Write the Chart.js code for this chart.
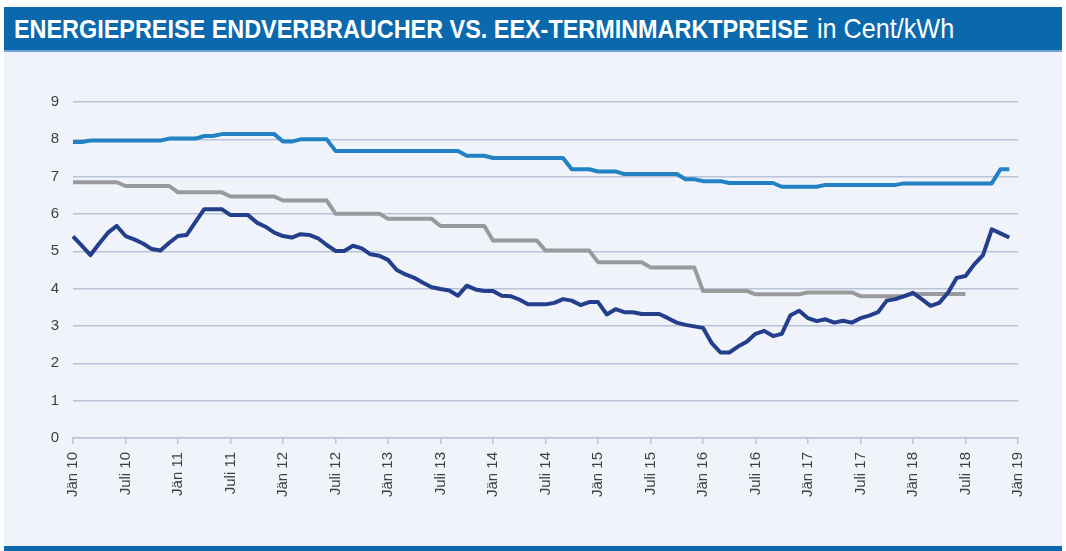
<!DOCTYPE html>
<html lang="de">
<head>
<meta charset="utf-8">
<script src="https://cdn.jsdelivr.net/npm/chart.js@4.4.0/dist/chart.umd.min.js"></script>
<style>
  body { margin: 0; width: 1066px; height: 551px; background: #fff; position: relative; overflow: hidden;
         font-family: "Liberation Sans", Arial, sans-serif; }
  #kopf { position: absolute; left: 4px; top: 7px; width: 1058px; height: 43px; background: #0a69ad;
          color: #fff; line-height: 44px; padding-left: 10px; box-sizing: border-box; white-space: nowrap; overflow: hidden; }
  #kopf span { display: inline-block; transform: scaleX(0.9); transform-origin: left center; }
  #kopf b { font-weight: bold; font-size: 26px; }
  #kopf i { font-style: normal; font-size: 28px; margin-left: 5px; }
  #linie { position: absolute; left: 4px; top: 50px; width: 1058px; height: 2px; background: #6fa6d6; }
  #flaeche { position: absolute; left: 4px; top: 52px; width: 1058px; height: 494px; background: #f0f3f9; }
  #fuss { position: absolute; left: 4px; top: 546px; width: 1058px; height: 5px; background: #0a69ad; }
  #box { position: absolute; left: 0; top: 53px; width: 1066px; height: 492px; }
</style>
</head>
<body>
<div id="kopf"><span><b>ENERGIEPREISE ENDVERBRAUCHER VS. EEX-TERMINMARKTPREISE</b> <i>in Cent/kWh</i></span></div>
<div id="linie"></div>
<div id="flaeche"></div>
<div id="fuss"></div>
<div id="box"><canvas id="chart" width="1066" height="492"></canvas></div>

<script>
// Monatsachse Jän 10 bis Jän 19
const monate = ['Jän', 'Feb', 'März', 'Apr', 'Mai', 'Juni', 'Juli', 'Aug', 'Sep', 'Okt', 'Nov', 'Dez'];
const jahre = ['10', '11', '12', '13', '14', '15', '16', '17', '18'];

// Endverbraucherpreis (hellblau), Cent/kWh, monatlich ab Jän 10
const endverbraucherHoch = [
    7.93, 7.93, 7.97, 7.97, 7.97, 7.97, 7.97, 7.97, 7.97, 7.97, 7.97, 8.02,
    8.02, 8.02, 8.02, 8.09, 8.09, 8.14, 8.14, 8.14, 8.14, 8.14, 8.14, 8.14,
    7.94, 7.94, 8.00, 8.00, 8.00, 8.00, 7.69, 7.69, 7.69, 7.69, 7.69, 7.69,
    7.69, 7.69, 7.69, 7.69, 7.69, 7.69, 7.69, 7.69, 7.69, 7.56, 7.56, 7.56,
    7.50, 7.50, 7.50, 7.50, 7.50, 7.50, 7.50, 7.50, 7.50, 7.20, 7.20, 7.20,
    7.14, 7.14, 7.14, 7.07, 7.07, 7.07, 7.07, 7.07, 7.07, 7.07, 6.93, 6.93,
    6.88, 6.88, 6.88, 6.83, 6.83, 6.83, 6.83, 6.83, 6.83, 6.73, 6.73, 6.73,
    6.73, 6.73, 6.78, 6.78, 6.78, 6.78, 6.78, 6.78, 6.78, 6.78, 6.78, 6.82,
    6.82, 6.82, 6.82, 6.82, 6.82, 6.82, 6.82, 6.82, 6.82, 6.82, 7.20, 7.20
];

// Endverbraucherpreis (grau), halbjährlich angepasst, endet Juli 18
const endverbraucherMittel = [
    6.85, 6.85, 6.85, 6.85, 6.85, 6.85, 6.75, 6.75, 6.75, 6.75, 6.75, 6.75,
    6.58, 6.58, 6.58, 6.58, 6.58, 6.58, 6.47, 6.47, 6.47, 6.47, 6.47, 6.47,
    6.36, 6.36, 6.36, 6.36, 6.36, 6.36, 6.01, 6.01, 6.01, 6.01, 6.01, 6.01,
    5.87, 5.87, 5.87, 5.87, 5.87, 5.87, 5.68, 5.68, 5.68, 5.68, 5.68, 5.68,
    5.29, 5.29, 5.29, 5.29, 5.29, 5.29, 5.02, 5.02, 5.02, 5.02, 5.02, 5.02,
    4.71, 4.71, 4.71, 4.71, 4.71, 4.71, 4.57, 4.57, 4.57, 4.57, 4.57, 4.57,
    3.94, 3.94, 3.94, 3.94, 3.94, 3.94, 3.85, 3.85, 3.85, 3.85, 3.85, 3.85,
    3.90, 3.90, 3.90, 3.90, 3.90, 3.90, 3.80, 3.80, 3.80, 3.80, 3.80, 3.80,
    3.86, 3.86, 3.86, 3.86, 3.86, 3.86, 3.86
];

// EEX-Terminmarktpreis (dunkelblau)
const eexTermin = [
    5.40, 5.15, 4.90, 5.21, 5.50, 5.68, 5.41, 5.32, 5.21, 5.06, 5.02, 5.23,
    5.41, 5.44, 5.79, 6.13, 6.13, 6.13, 5.97, 5.97, 5.97, 5.77, 5.66, 5.50,
    5.41, 5.37, 5.46, 5.44, 5.35, 5.17, 5.01, 5.01, 5.15, 5.08, 4.92, 4.88,
    4.77, 4.50, 4.38, 4.29, 4.16, 4.04, 3.99, 3.95, 3.81, 4.08, 3.98, 3.94,
    3.94, 3.81, 3.80, 3.71, 3.58, 3.58, 3.58, 3.62, 3.72, 3.68, 3.56, 3.64,
    3.64, 3.31, 3.45, 3.37, 3.37, 3.32, 3.32, 3.32, 3.21, 3.09, 3.03, 2.99,
    2.95, 2.54, 2.29, 2.29, 2.45, 2.58, 2.79, 2.87, 2.73, 2.79, 3.29, 3.41,
    3.21, 3.13, 3.18, 3.09, 3.14, 3.09, 3.21, 3.28, 3.37, 3.68, 3.72, 3.80,
    3.89, 3.72, 3.54, 3.62, 3.89, 4.29, 4.34, 4.65, 4.90, 5.59, 5.48, 5.37
];

const labels = [];
for (const j of jahre) {
    for (const m of monate) labels.push(m + ' ' + j);
}
labels.push('Jän 19');

const gridColor = '#b9c3d8';
const textColor = '#404040';

function linie(label, data, color) {
    return {
        label: label,
        data: data,
        borderColor: color,
        borderWidth: 4,
        pointRadius: 0,
        tension: 0,
        fill: false,
        borderJoinStyle: 'round',
        borderCapStyle: 'butt'
    };
}

var ctx = document.getElementById('chart').getContext('2d');
var myChart = new Chart(ctx, {
    type: 'line',
    data: {
        labels: labels,
        datasets: [
            linie('EEX-Terminmarkt', eexTermin, '#233f8c'),
            linie('Endverbraucher grau', endverbraucherMittel, '#999a9c'),
            linie('Endverbraucher blau', endverbraucherHoch, '#2282c3')
        ]
    },
    options: {
        responsive: false,
        animation: false,
        devicePixelRatio: 1,
        layout: { padding: { left: 0, right: 48, top: 49, bottom: 0 } },
        plugins: { legend: { display: false }, tooltip: { enabled: false } },
        scales: {
            x: {
                type: 'category',
                offset: false,
                grid: { drawOnChartArea: false, drawTicks: true, tickLength: 6, color: gridColor, lineWidth: 1.5 },
                border: { display: true, color: gridColor, width: 1.5 },
                ticks: {
                    autoSkip: false,
                    minRotation: 90,
                    maxRotation: 90,
                    padding: 8,
                    color: textColor,
                    font: { family: '"Liberation Sans", Arial, sans-serif', size: 15 },
                    // nur Jän und Juli beschriften
                    callback: function(value, index) {
                        return index % 6 === 0 ? this.getLabelForValue(value) : null;
                    }
                },
                afterFit: function(scale) { scale.height = 107; }
            },
            y: {
                min: 0,
                max: 9,
                grid: { color: gridColor, lineWidth: 1.5, drawTicks: false },
                border: { display: false },
                ticks: {
                    stepSize: 1,
                    padding: 14,
                    color: textColor,
                    font: { family: '"Liberation Sans", Arial, sans-serif', size: 15 }
                },
                afterFit: function(scale) { scale.width = 73; }
            }
        }
    }
});
</script>
</body>
</html>
